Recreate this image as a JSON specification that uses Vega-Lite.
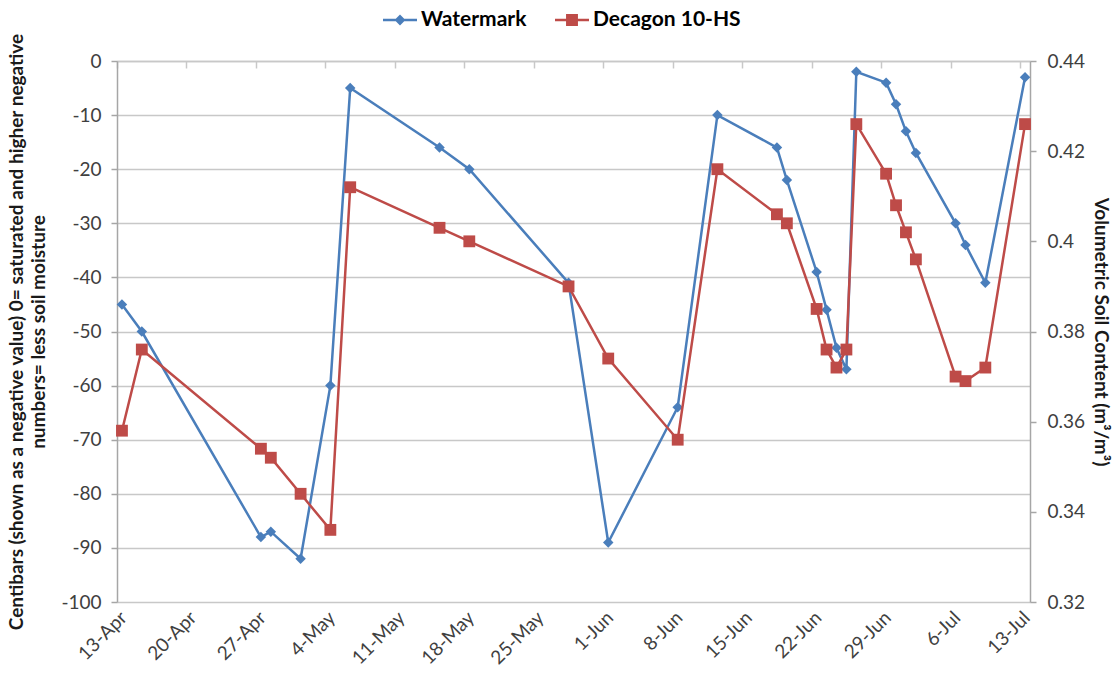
{
  "$schema": "https://vega.github.io/schema/vega-lite/v6.json",
  "width": 913,
  "height": 541,
  "autosize": {"type": "none"},
  "padding": {"left": 117, "top": 61, "right": 84, "bottom": 88},
  "background": "white",
  "config": {
    "font": "Lato",
    "view": {"stroke": null},
    "axis": {"labelFont": "Lato", "titleFont": "Lato", "labelColor": "#404040", "titleColor": "#1a1a1a"}
  },
  "data": {
    "values": [
      {"date": "2013-04-13T12:00:00", "wm": -45, "dec": 0.358},
      {"date": "2013-04-15T12:00:00", "wm": -50, "dec": 0.376},
      {"date": "2013-04-27T12:00:00", "wm": -88, "dec": 0.354},
      {"date": "2013-04-28T12:00:00", "wm": -87, "dec": 0.352},
      {"date": "2013-05-01T12:00:00", "wm": -92, "dec": 0.344},
      {"date": "2013-05-04T12:00:00", "wm": -60, "dec": 0.336},
      {"date": "2013-05-06T12:00:00", "wm": -5, "dec": 0.412},
      {"date": "2013-05-15T12:00:00", "wm": -16, "dec": 0.403},
      {"date": "2013-05-18T12:00:00", "wm": -20, "dec": 0.400},
      {"date": "2013-05-28T12:00:00", "wm": -41, "dec": 0.390},
      {"date": "2013-06-01T12:00:00", "wm": -89, "dec": 0.374},
      {"date": "2013-06-08T12:00:00", "wm": -64, "dec": 0.356},
      {"date": "2013-06-12T12:00:00", "wm": -10, "dec": 0.416},
      {"date": "2013-06-18T12:00:00", "wm": -16, "dec": 0.406},
      {"date": "2013-06-19T12:00:00", "wm": -22, "dec": 0.404},
      {"date": "2013-06-22T12:00:00", "wm": -39, "dec": 0.385},
      {"date": "2013-06-23T12:00:00", "wm": -46, "dec": 0.376},
      {"date": "2013-06-24T12:00:00", "wm": -53, "dec": 0.372},
      {"date": "2013-06-25T12:00:00", "wm": -57, "dec": 0.376},
      {"date": "2013-06-26T12:00:00", "wm": -2, "dec": 0.426},
      {"date": "2013-06-29T12:00:00", "wm": -4, "dec": 0.415},
      {"date": "2013-06-30T12:00:00", "wm": -8, "dec": 0.408},
      {"date": "2013-07-01T12:00:00", "wm": -13, "dec": 0.402},
      {"date": "2013-07-02T12:00:00", "wm": -17, "dec": 0.396},
      {"date": "2013-07-06T12:00:00", "wm": -30, "dec": 0.370},
      {"date": "2013-07-07T12:00:00", "wm": -34, "dec": 0.369},
      {"date": "2013-07-09T12:00:00", "wm": -41, "dec": 0.372},
      {"date": "2013-07-13T12:00:00", "wm": -3, "dec": 0.426}
    ]
  },
  "layer": [
    {
      "layer": [
        {
          "mark": {"type": "line", "color": "#4A7EBB", "strokeWidth": 2.5},
          "encoding": {
            "x": {
              "field": "date", "type": "temporal",
              "scale": {"domain": [{"year": 2013, "month": "apr", "date": 13}, {"year": 2013, "month": "jul", "date": 14}]},
              "axis": {
                "orient": "bottom", "title": null, "grid": false, "ticks": false, "domain": false,
                "format": "%-d-%b", "labelAngle": -45, "labelFontSize": 19, "labelPadding": 6,
                "values": [
                  {"year": 2013, "month": "apr", "date": 13}, {"year": 2013, "month": "apr", "date": 20},
                  {"year": 2013, "month": "apr", "date": 27}, {"year": 2013, "month": "may", "date": 4},
                  {"year": 2013, "month": "may", "date": 11}, {"year": 2013, "month": "may", "date": 18},
                  {"year": 2013, "month": "may", "date": 25}, {"year": 2013, "month": "jun", "date": 1},
                  {"year": 2013, "month": "jun", "date": 8}, {"year": 2013, "month": "jun", "date": 15},
                  {"year": 2013, "month": "jun", "date": 22}, {"year": 2013, "month": "jun", "date": 29},
                  {"year": 2013, "month": "jul", "date": 6}, {"year": 2013, "month": "jul", "date": 13}
                ]
              }
            },
            "y": {
              "field": "wm", "type": "quantitative",
              "scale": {"domain": [-100, 0], "nice": false},
              "axis": {
                "orient": "left",
                "values": [-100, -90, -80, -70, -60, -50, -40, -30, -20, -10, 0],
                "labelExpr": "datum.value < 0 ? '-' + abs(datum.value) : '' + datum.value",
                "labelFontSize": 19, "labelPadding": 10,
                "grid": true, "gridColor": "#c8c8c8", "gridWidth": 1.5,
                "domain": true, "domainColor": "#a6a6a6", "domainWidth": 1.5,
                "ticks": true, "tickSize": 6, "tickColor": "#a6a6a6", "tickWidth": 1.5,
                "title": ["Centibars (shown as a negative value)  0= saturated and higher negative", "numbers= less soil moisture"],
                "titleFontSize": 19, "titleFontWeight": "bold", "titlePadding": 12, "titleLineHeight": 22
              }
            }
          }
        },
        {
          "mark": {"type": "point", "shape": "diamond", "filled": true, "size": 110, "color": "#4A7EBB", "opacity": 1},
          "encoding": {
            "x": {"field": "date", "type": "temporal"},
            "y": {"field": "wm", "type": "quantitative"}
          }
        }
      ]
    },
    {
      "layer": [
        {
          "mark": {"type": "line", "color": "#BE4B48", "strokeWidth": 2.5},
          "encoding": {
            "x": {
              "field": "date", "type": "temporal",
              "axis": {
                "orient": "top", "title": null, "labels": false, "grid": false,
                "domain": true, "domainColor": "#c8c8c8", "domainWidth": 1.5,
                "ticks": true, "tickSize": -7, "tickColor": "#c8c8c8", "tickWidth": 1.5,
                "values": [
                  {"year": 2013, "month": "apr", "date": 13}, {"year": 2013, "month": "apr", "date": 20},
                  {"year": 2013, "month": "apr", "date": 27}, {"year": 2013, "month": "may", "date": 4},
                  {"year": 2013, "month": "may", "date": 11}, {"year": 2013, "month": "may", "date": 18},
                  {"year": 2013, "month": "may", "date": 25}, {"year": 2013, "month": "jun", "date": 1},
                  {"year": 2013, "month": "jun", "date": 8}, {"year": 2013, "month": "jun", "date": 15},
                  {"year": 2013, "month": "jun", "date": 22}, {"year": 2013, "month": "jun", "date": 29},
                  {"year": 2013, "month": "jul", "date": 6}, {"year": 2013, "month": "jul", "date": 13}
                ]
              }
            },
            "y": {
              "field": "dec", "type": "quantitative",
              "scale": {"domain": [0.32, 0.44], "nice": false, "zero": false},
              "axis": {
                "orient": "right",
                "values": [0.32, 0.34, 0.36, 0.38, 0.4, 0.42, 0.44],
                "format": ".2~f",
                "labelFontSize": 19, "labelPadding": 11,
                "grid": false,
                "domain": true, "domainColor": "#a6a6a6", "domainWidth": 1.5,
                "ticks": true, "tickSize": 6, "tickColor": "#a6a6a6", "tickWidth": 1.5,
                "title": "Volumetric Soil Content (m³/m³)",
                "titleFontSize": 19, "titleFontWeight": "bold", "titlePadding": 6
              }
            }
          }
        },
        {
          "mark": {"type": "point", "shape": "square", "filled": true, "size": 140, "color": "#BE4B48", "opacity": 1},
          "encoding": {
            "x": {"field": "date", "type": "temporal"},
            "y": {"field": "dec", "type": "quantitative"}
          }
        }
      ]
    },
    {
      "data": {"values": [{"series": "Watermark"}, {"series": "Decagon 10-HS"}]},
      "mark": {"type": "point", "filled": true, "opacity": 0},
      "encoding": {
        "color": {
          "field": "series", "type": "nominal",
          "scale": {"domain": ["Watermark", "Decagon 10-HS"], "range": ["#4A7EBB", "#BE4B48"]},
          "legend": {
            "orient": "none", "legendX": 266, "legendY": -58, "direction": "horizontal", "title": null,
            "labelFont": "Lato", "labelFontSize": 21, "labelFontWeight": "bold", "labelColor": "#000000",
            "symbolSize": 1156, "symbolStrokeWidth": 0, "symbolOpacity": 1,
            "columnPadding": 28, "labelOffset": 4, "padding": 0
          }
        },
        "shape": {
          "field": "series", "type": "nominal",
          "scale": {
            "domain": ["Watermark", "Decagon 10-HS"],
            "range": [
              "M-1,-0.075L1,-0.075L1,0.075L-1,0.075Z M-0.32,0L0,-0.32L0.32,0L0,0.32Z",
              "M-1,-0.075L1,-0.075L1,0.075L-1,0.075Z M-0.35,-0.35L0.35,-0.35L0.35,0.35L-0.35,0.35Z"
            ]
          },
          "legend": {
            "orient": "none", "legendX": 266, "legendY": -58, "direction": "horizontal", "title": null,
            "labelFont": "Lato", "labelFontSize": 21, "labelFontWeight": "bold", "labelColor": "#000000",
            "symbolSize": 1156, "symbolStrokeWidth": 0, "symbolOpacity": 1,
            "columnPadding": 28, "labelOffset": 4, "padding": 0
          }
        }
      }
    }
  ],
  "resolve": {"scale": {"y": "independent"}, "axis": {"x": "independent"}}
}
